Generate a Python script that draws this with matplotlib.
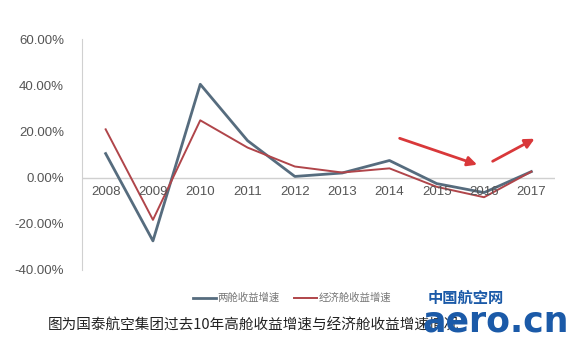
import matplotlib
matplotlib.use("Agg")
import matplotlib.pyplot as plt

plt.rcParams['font.family'] = ['Noto Sans CJK SC', 'DejaVu Sans']

# data
years = ['2008', '2009', '2010', '2011', '2012', '2013', '2014', '2015', '2016', '2017']
premium = [10.4, -27.4, 40.4, 16.0, 0.5, 2.0, 7.4, -2.6, -6.5, 2.6]
economy = [20.9, -18.3, 24.8, 13.0, 4.8, 2.2, 4.0, -4.0, -8.5, 2.6]
yticks = [-40, -20, 0, 20, 40, 60]
series_names = ['两舱收益增速', '经济舱收益增速']
caption = '图为国泰航空集团过去10年高舱收益增速与经济舱收益增速情况'

fig = plt.figure(figsize=(5.8, 3.44), dpi=100)
ax = fig.add_axes([82 / 580, 1 - 270 / 344, 473 / 580, 231 / 344])

x = list(range(len(years)))
l1, = ax.plot(x, premium, color='#566c7e', lw=2)
l2, = ax.plot(x, economy, color='#b0454a', lw=1.4)

ax.set_xlim(-0.5, len(years) - 0.5)
ax.set_ylim(-40, 60)
ax.set_yticks(yticks)
ax.set_yticklabels(['%.2f%%' % v for v in yticks], color='#555555', fontsize=9.5,
                   family='Liberation Sans')
ax.tick_params(axis='y', length=0, pad=13)
ax.set_xticks([])
for s in ['top', 'right', 'bottom']:
    ax.spines[s].set_visible(False)
ax.spines['left'].set_color('#d0d0d0')
ax.axhline(0, color='#d0d0d0', lw=1, zorder=0)

# year labels sit under the zero line
for xi, yr in zip(x, years):
    ax.text(xi, -3.5, yr, ha='center', va='top', fontsize=9.5, color='#555555',
            family='Liberation Sans')

# red hand-drawn arrows
arr = dict(arrowstyle='-|>', color='#d9383a', lw=2, mutation_scale=14)
ax.annotate('', xy=(7.91, 5.2), xytext=(6.16, 17.4), arrowprops=arr)
ax.annotate('', xy=(9.12, 17.4), xytext=(8.13, 6.5), arrowprops=arr)

fig.legend([l1, l2], series_names, loc='center', bbox_to_anchor=(292 / 580, 1 - 298 / 344),
           ncol=2, frameon=False, fontsize=7.5, labelcolor='#777777',
           handlelength=2.2, handletextpad=0.2, columnspacing=1.3)

fig.text(48 / 580, 1 - 326 / 344, caption, fontsize=10.5, color='#222222', va='center')

# watermark logo
fig.text(428 / 580, 1 - 298 / 344, '中国航空网', fontsize=11, fontweight='bold',
         color='#1b5aa8', va='center')
fig.text(423 / 580, 1 - 322 / 344, 'aero.cn', fontsize=25, fontweight='bold',
         color='#1b5aa8', va='center', family='DejaVu Sans')

fig.savefig('out.png', dpi=100)
